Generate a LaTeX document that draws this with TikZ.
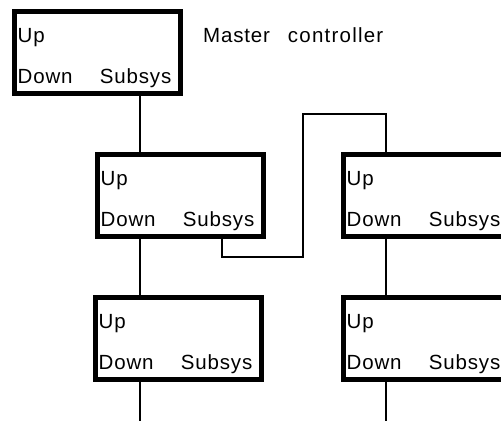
\documentclass[tikz,border=0pt]{standalone}
\usepackage{fontspec}
\setmainfont{Liberation Sans}[LetterSpace=4]
\begin{document}
\begin{tikzpicture}[x=1pt,y=-1pt,
  unitbox/.style={draw=black,line width=5.5pt,minimum width=166pt,minimum height=82pt,anchor=north west,inner sep=0pt,outer sep=0pt},
  lbl/.style={inner sep=0pt,font=\fontsize{20.5}{22}\selectfont},
  wire/.style={line width=1.8pt}]
\useasboundingbox (0,0) rectangle (501,421);
\clip (0,0) rectangle (501,421);
% boxes
\node[unitbox] (m) at (14.5,11.5) {};
\node[unitbox] (b2) at (97.5,154.5) {};
\node[unitbox] (b3) at (343.5,154.5) {};
\node[unitbox] (b4) at (95.5,297.5) {};
\node[unitbox] (b5) at (343.5,297.5) {};
% labels
\foreach \b in {m,b2,b3,b4,b5}{
  \node[lbl,anchor=base west] (\b-up) at ([xshift=3pt,yshift=-30.5pt]\b.north west) {Up};
  \node[lbl,anchor=base west] (\b-down) at ([xshift=3pt,yshift=-71.5pt]\b.north west) {Down};
  \node[lbl,anchor=base east] (\b-sub) at ([xshift=-9pt,yshift=-71.5pt]\b.north east) {Subsys};
}
\node[lbl,anchor=base west] (title) at (203,42) {Master\hspace{18pt}\addfontfeature{LetterSpace=6}controller};
% wire coordinates
\coordinate (xl) at (140,0);
\coordinate (xr) at (386,0);
\coordinate (bot) at (0,421);
\coordinate (s1) at (222,257);
\coordinate (s2) at (303,114);
% connectors
\draw[wire] (m.south -| xl) -- (b2.north -| xl);
\draw[wire] (b2.south -| xl) -- (b4.north -| xl);
\draw[wire] (b4.south -| xl) -- (bot -| xl);
\draw[wire] (b3.south -| xr) -- (b5.north -| xr);
\draw[wire] (b5.south -| xr) -- (bot -| xr);
\draw[wire] (b2.south -| s1) |- (s1) -| (s2) -| (b3.north -| xr);
\end{tikzpicture}
\end{document}
